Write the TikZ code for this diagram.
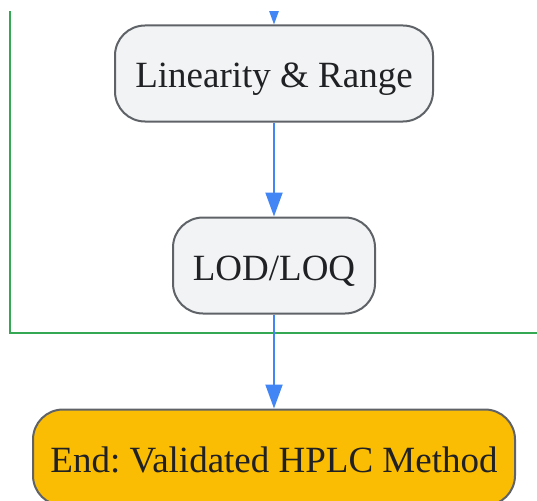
\documentclass[tikz,border=0pt]{standalone}
\usepackage{fontspec}
\setmainfont{Liberation Serif}
\usetikzlibrary{positioning,arrows.meta}

\definecolor{boxgray}{HTML}{F1F3F4}
\definecolor{edgegray}{HTML}{5F6368}
\definecolor{flowblue}{HTML}{4285F4}
\definecolor{groupgreen}{HTML}{34A853}
\definecolor{endyellow}{HTML}{FBBC04}
\definecolor{textdark}{HTML}{202124}

\tikzset{
  stepbox/.style={draw=edgegray, line width=2pt, fill=boxgray, rounded corners=30pt,
    text=textdark, font=\fontsize{37}{40}\selectfont\frenchspacing, minimum height=96pt,
    inner sep=0pt, text height=30pt, text depth=1pt},
  endbox/.style={stepbox, fill=endyellow},
  flow/.style={-{Triangle[length=24pt,width=17pt]}, color=flowblue, line width=2pt},
}

\begin{document}
\begin{tikzpicture}[x=1pt,y=1pt,node distance=94pt]
  \useasboundingbox (0,0) rectangle (537,-500);
  \clip (0,-12) rectangle (537,-500);

  \node[stepbox, minimum width=318pt] (lin) at (274,-73.5) {Linearity \& Range};
  \node[stepbox, minimum width=202pt] (lod) [below=of lin] {LOD/LOQ};
  \node[endbox, minimum width=482pt] (end) [below=of lod] {End: Validated HPLC Method};

  \coordinate (top) at (274,10);
  \coordinate (g0) at (10,2);
  \coordinate (g1) at (10,-333);
  \coordinate (g2) at (540,-333);

  \draw[groupgreen, line width=2.5pt] (g0) -- (g1) -- (g2);

  \path[flow] (top) edge (lin);
  \path[flow] (lin) edge (lod);
  \path[flow] (lod) edge (end);

\end{tikzpicture}
\end{document}
